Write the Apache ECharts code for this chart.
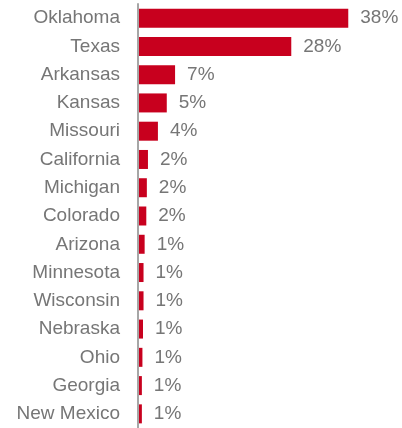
<!DOCTYPE html>
<html>
<head>
<meta charset="utf-8">
<script src="https://cdn.jsdelivr.net/npm/echarts@6/dist/echarts.min.js"></script>
<style>
  html, body { margin: 0; padding: 0; background: #fff; }
  #chart { width: 402px; height: 428px; }
</style>
</head>
<body>
<div id="chart"></div>
<script>
// Share by state, largest first
const states = ['Oklahoma', 'Texas', 'Arkansas', 'Kansas', 'Missouri', 'California', 'Michigan',
  'Colorado', 'Arizona', 'Minnesota', 'Wisconsin', 'Nebraska', 'Ohio', 'Georgia', 'New Mexico'];
const shares = [38, 27.7, 6.7, 5.2, 3.6, 1.8, 1.6, 1.5, 1.2, 1.0, 1.0, 0.9, 0.8, 0.7, 0.7];

const textColor = '#767676';
const font = "'Liberation Sans', Arial, sans-serif";

const chart = echarts.init(document.getElementById('chart'), null, { renderer: 'canvas' });
chart.setOption({
  animation: false,
  grid: { left: 138, top: 4, width: 249, height: 427.5, containLabel: false },
  xAxis: {
    type: 'value', min: 0, max: 45,
    show: false
  },
  yAxis: {
    type: 'category',
    data: states,
    inverse: true,
    z: 5,
    axisLine: { show: true, lineStyle: { color: '#A6A6A6', width: 2 } },
    axisTick: { show: false },
    splitLine: { show: false },
    axisLabel: { color: textColor, fontSize: 19, fontFamily: font, margin: 18 }
  },
  series: [{
    type: 'bar',
    data: shares,
    barWidth: 19,
    itemStyle: { color: '#C8001E' },
    label: {
      show: true,
      position: 'right',
      distance: 12,
      color: textColor,
      fontSize: 19,
      fontFamily: font,
      formatter: p => Math.round(p.value) + '%'
    }
  }]
});
</script>
</body>
</html>
